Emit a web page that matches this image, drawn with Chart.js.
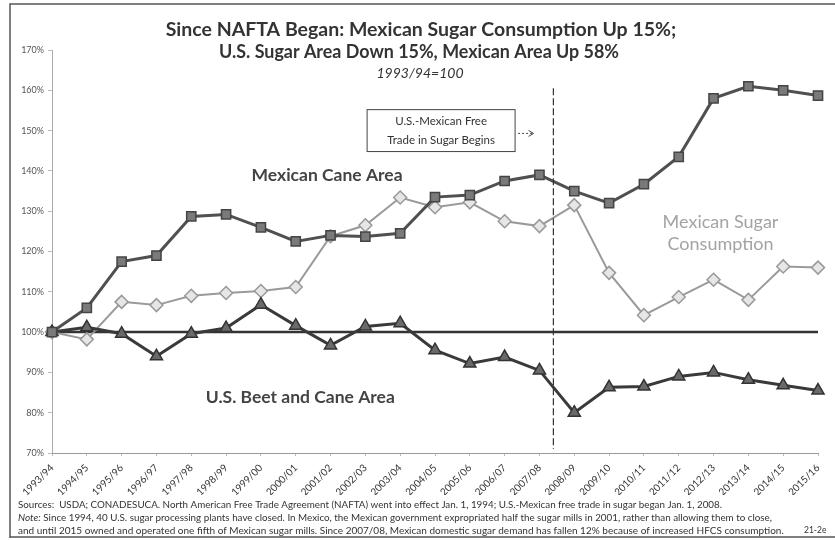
<!DOCTYPE html>
<html>
<head>
<meta charset="utf-8">
<script src="https://cdn.jsdelivr.net/npm/chart.js@4.4.1/dist/chart.umd.min.js"></script>
<style>
  html, body { margin: 0; padding: 0; background: #fff; }
  #wrap { width: 835px; height: 540px; position: relative; }
</style>
</head>
<body>
<div id="wrap"><canvas id="chart"></canvas></div>
<script>
// Campañas (años cosecha)
const years = [
  "1993/94", "1994/95", "1995/96", "1996/97", "1997/98", "1998/99",
  "1999/00", "2000/01", "2001/02", "2002/03", "2003/04", "2004/05",
  "2005/06", "2006/07", "2007/08", "2008/09", "2009/10", "2010/11",
  "2011/12", "2012/13", "2013/14", "2014/15", "2015/16",
];

// Series (1993/94 = 100)
const mexCaneArea = [
  100, 106, 117.5, 119, 128.7, 129.2, 126, 122.5, 124, 123.7, 124.5, 133.5,
  134, 137.5, 139, 135, 132, 136.7, 143.5, 158, 161, 160, 158.7,
];
const mexConsumption = [
  100, 98.2, 107.5, 106.7, 109, 109.7, 110.2, 111.2, 123.8, 126.5, 133.4, 131,
  132.2, 127.5, 126.3, 131.5, 114.7, 104.2, 108.7, 113, 108, 116.3, 116,
];
const usArea = [
  100, 101.2, 99.6, 94, 99.6, 101, 106.8, 101.6, 96.7, 101.4, 102.2, 95.5,
  92.2, 93.8, 90.5, 80, 86.3, 86.5, 89, 90, 88.2, 86.8, 85.5,
];
const baseline = new Array(years.length).fill(100);

const yTicksMin = 70;
const yTicksMax = 170;

const freeTradeIndex = 14.4; // entre 2007/08 y 2008/09

const titleLines = [
  "Since NAFTA Began: Mexican Sugar Consumption Up 15%;",
  "U.S. Sugar Area Down 15%, Mexican Area Up 58%",
];
const subtitle = "1993/94=100";

const footerLines = [
  ["Sources:  USDA; CONADESUCA. North American Free Trade Agreement (NAFTA) went into effect Jan. 1, 1994; U.S.-Mexican free trade in sugar began Jan. 1, 2008.", false],
  ["Note: Since 1994, 40 U.S. sugar processing plants have closed. In Mexico, the Mexican government expropriated half the sugar mills in 2001, rather than allowing them to close,", true],
  ["and until 2015 owned and operated one fifth of Mexican sugar mills. Since 2007/08, Mexican domestic sugar demand has fallen 12% because of increased HFCS consumption.", false],
];

const FONT = "Lato, 'Open Sans', sans-serif";

// Textos y anotaciones dibujados sobre la gráfica
const extras = {
  id: "extras",
  afterDraw(chart) {
    const ctx = chart.ctx;
    const xs = chart.scales.x;
    const ys = chart.scales.y;
    ctx.save();

    // Marco
    ctx.strokeStyle = "#555";
    ctx.lineWidth = 1.5;
    ctx.beginPath();
    ctx.moveTo(10, 538);
    ctx.lineTo(10, 4);
    ctx.lineTo(835, 4);
    ctx.moveTo(10, 537);
    ctx.lineTo(835, 537);
    ctx.stroke();

    // Título
    ctx.fillStyle = "#333";
    ctx.textAlign = "center";
    ctx.textBaseline = "middle";
    ctx.font = "bold 19.5px " + FONT;
    ctx.fillText(titleLines[0], 421, 30, 518);
    ctx.fillText(titleLines[1], 419, 52, 400);
    ctx.font = "italic 14px " + FONT;
    ctx.fillText(subtitle, 420, 73);

    // Línea vertical: inicio del libre comercio
    const vx = xs.getPixelForValue(freeTradeIndex);
    ctx.strokeStyle = "#333";
    ctx.lineWidth = 1.2;
    ctx.setLineDash([7, 3]);
    ctx.beginPath();
    ctx.moveTo(vx, ys.getPixelForValue(160.5));
    ctx.lineTo(vx, ys.getPixelForValue(71));
    ctx.stroke();

    // Caja de anotación
    const bx1 = xs.getPixelForValue(9.05);
    const bx2 = xs.getPixelForValue(13.3);
    const by1 = ys.getPixelForValue(155.2);
    const by2 = ys.getPixelForValue(144.8);
    ctx.setLineDash([]);
    ctx.strokeStyle = "#444";
    ctx.lineWidth = 1;
    ctx.strokeRect(bx1, by1, bx2 - bx1, by2 - by1);
    ctx.fillStyle = "#333";
    ctx.font = "11.5px " + FONT;
    const bcx = (bx1 + bx2) / 2;
    ctx.fillText("U.S.-Mexican Free", bcx, ys.getPixelForValue(152.3));
    ctx.fillText("Trade in Sugar Begins", bcx, ys.getPixelForValue(147.5));

    // Flecha
    const ay = ys.getPixelForValue(149.3);
    const ax1 = bx2 + 3;
    const ax2 = xs.getPixelForValue(13.83);
    ctx.setLineDash([2, 2]);
    ctx.beginPath();
    ctx.moveTo(ax1, ay);
    ctx.lineTo(ax2, ay);
    ctx.stroke();
    ctx.setLineDash([]);
    ctx.beginPath();
    ctx.moveTo(ax2 - 5, ay - 3);
    ctx.lineTo(ax2, ay);
    ctx.lineTo(ax2 - 5, ay + 3);
    ctx.stroke();

    // Etiquetas de las series
    ctx.font = "bold 17.5px " + FONT;
    ctx.fillStyle = "#444";
    ctx.fillText("Mexican Cane Area", xs.getPixelForValue(7.9), ys.getPixelForValue(138.9), 156);
    ctx.fillText("U.S. Beet and Cane Area", xs.getPixelForValue(7.13), ys.getPixelForValue(83.7), 196);
    ctx.font = "18px " + FONT;
    ctx.fillStyle = "#a3a3a3";
    ctx.fillText("Mexican Sugar", xs.getPixelForValue(19.2), ys.getPixelForValue(127.2), 120);
    ctx.fillText("Consumption", xs.getPixelForValue(19.2), ys.getPixelForValue(121.7), 120);

    // Pie de página
    ctx.textAlign = "left";
    ctx.fillStyle = "#333";
    const fy = [505, 518, 531];
    const fw = [704, 754, 769];
    footerLines.forEach(function (l, i) {
      if (l[1]) {
        ctx.font = "italic 10px " + FONT;
        ctx.fillText("Note:", 18, fy[i]);
        const w = ctx.measureText("Note:").width;
        ctx.font = "10px " + FONT;
        ctx.fillText(l[0].slice(5), 18 + w, fy[i], fw[i] - w);
      } else {
        ctx.font = "10px " + FONT;
        ctx.fillText(l[0], 18, fy[i], fw[i]);
      }
    });
    ctx.font = "8.5px " + FONT;
    ctx.fillText("21-2e", 804, 530);

    ctx.restore();
  },
};

var ctx1 = document.getElementById("chart").getContext("2d");
var chart = new Chart(ctx1, {
  type: "line",
  data: {
    labels: years,
    datasets: [
      {
        label: "Baseline",
        data: baseline,
        borderColor: "#333",
        borderWidth: 2.5,
        pointRadius: 0,
        order: 4,
      },
      {
        label: "Mexican Sugar Consumption",
        data: mexConsumption,
        borderColor: "#9a9a9a",
        borderWidth: 2,
        pointStyle: "rectRot",
        pointRadius: 6.5,
        pointBackgroundColor: "#e6e6e6",
        pointBorderColor: "#999",
        pointBorderWidth: 1.5,
        order: 3,
      },
      {
        label: "U.S. Beet and Cane Area",
        data: usArea,
        borderColor: "#3a3a3a",
        borderWidth: 3,
        pointStyle: "triangle",
        pointRadius: 7,
        pointBackgroundColor: "#6a6a6a",
        pointBorderColor: "#333",
        pointBorderWidth: 1.5,
        order: 2,
      },
      {
        label: "Mexican Cane Area",
        data: mexCaneArea,
        borderColor: "#505050",
        borderWidth: 3,
        pointStyle: "rect",
        pointRadius: 6.5,
        pointBackgroundColor: "#7a7a7a",
        pointBorderColor: "#444",
        pointBorderWidth: 1.5,
        order: 1,
      },
    ],
  },
  options: {
    responsive: true,
    maintainAspectRatio: false,
    animation: false,
    layout: {
      padding: { left: 10, right: 17, top: 50, bottom: 45 },
    },
    plugins: {
      legend: { display: false },
      tooltip: { enabled: false },
    },
    scales: {
      y: {
        min: yTicksMin,
        max: yTicksMax,
        afterFit: function (scale) {
          scale.width = 42;
        },
        ticks: {
          stepSize: 10,
          color: "#555",
          font: { family: FONT, size: 9 },
          padding: 4,
          callback: function (v) {
            return v + "%";
          },
        },
        grid: {
          drawOnChartArea: false,
          drawTicks: true,
          tickLength: 4,
          color: "#bbb",
        },
        border: { color: "#aaa", dash: [1, 2] },
      },
      x: {
        offset: false,
        afterFit: function (scale) {
          scale.height = 42;
        },
        ticks: {
          autoSkip: false,
          maxRotation: 45,
          minRotation: 45,
          color: "#333",
          font: { family: FONT, size: 10 },
          padding: 6,
        },
        grid: {
          drawOnChartArea: false,
          drawTicks: true,
          tickLength: 3,
          color: "#bbb",
        },
        border: { color: "#999", dash: [1, 2] },
      },
    },
  },
  plugins: [extras],
});
</script>
</body>
</html>
